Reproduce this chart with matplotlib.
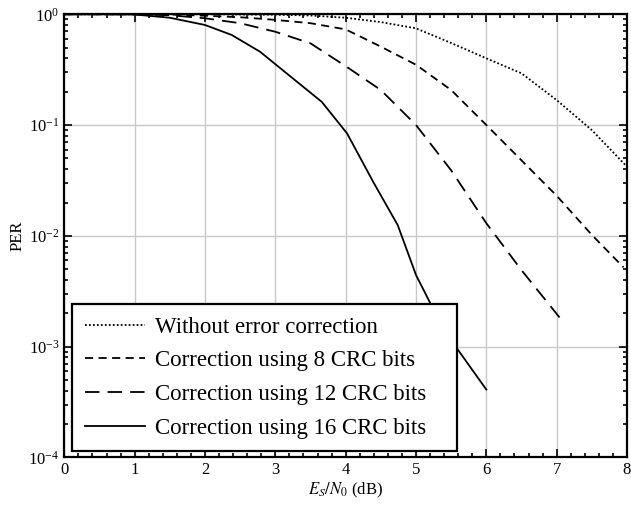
import numpy as np
import matplotlib
matplotlib.use('Agg')
import matplotlib.pyplot as plt
from matplotlib.patches import Rectangle
from matplotlib.ticker import MultipleLocator, LogLocator, NullFormatter

# PER curves
x_none = [0, 1, 2, 3, 3.5, 4, 4.5, 5, 5.5, 6, 6.5, 7, 7.5, 8]
per_none = [1.0, 1.0, 1.0, 0.99, 0.975, 0.93, 0.85, 0.746, 0.55, 0.40, 0.293, 0.168, 0.09, 0.042]

x_crc8 = [0, 1, 1.5, 2, 2.5, 3, 3.5, 4, 4.5, 5, 5.5, 6, 6.5, 7, 7.5, 7.95]
per_crc8 = [1.0, 1.0, 0.995, 0.97, 0.94, 0.89, 0.83, 0.73, 0.51, 0.35, 0.207, 0.10, 0.048, 0.023, 0.0102, 0.0052]

x_crc12 = [0, 1, 1.5, 2, 2.5, 3, 3.5, 4, 4.5, 5, 5.5, 6, 6.5, 7.07]
per_crc12 = [1.0, 1.0, 0.98, 0.92, 0.83, 0.695, 0.546, 0.34, 0.207, 0.10, 0.039, 0.013, 0.0049, 0.00174]

x_crc16 = [0, 0.5, 1, 1.5, 2, 2.38, 2.78, 3.16, 3.66, 4.02, 4.39, 4.74, 5.0, 5.4, 6.0]
per_crc16 = [1.0, 1.0, 0.995, 0.93, 0.80, 0.65, 0.46, 0.293, 0.162, 0.084, 0.0308, 0.0125, 0.00443, 0.0014, 0.00041]

labels = ['Without error correction', 'Correction using 8 CRC bits',
          'Correction using 12 CRC bits', 'Correction using 16 CRC bits']

plt.rcParams['font.family'] = ['Liberation Serif', 'DejaVu Serif']
plt.rcParams['mathtext.fontset'] = 'stix'

fig = plt.figure(figsize=(6.31, 5.09), dpi=100)
ax = fig.add_axes([0.102, 0.1012, 0.8917, 0.8708])

lw = 1.3
ax.plot(x_none, per_none, color='k', lw=lw, dashes=(1, 1.2), label=labels[0])
ax.plot(x_crc8, per_crc8, color='k', lw=lw, dashes=(4.5, 3), label=labels[1])
ax.plot(x_crc12, per_crc12, color='k', lw=lw, dashes=(8, 4.5), label=labels[2])
ax.plot(x_crc16, per_crc16, color='k', lw=lw, linestyle='-', label=labels[3])

ax.set_yscale('log')
ax.set_xlim(0, 8)
ax.set_ylim(1e-4, 1)
ax.xaxis.set_major_locator(MultipleLocator(1))
ax.xaxis.set_minor_locator(MultipleLocator(0.2))
ax.yaxis.set_major_locator(LogLocator(base=10, numticks=10))
ax.yaxis.set_minor_locator(LogLocator(base=10, subs=np.arange(2, 10), numticks=20))
ax.yaxis.set_minor_formatter(NullFormatter())

ax.grid(True, which='major', color='#c8c8c8', lw=1.0)
ax.set_axisbelow(True)
ax.tick_params(which='both', direction='in', top=True, right=True, labelsize=12, width=1.2)
ax.tick_params(which='major', length=6)
ax.tick_params(which='minor', length=3)
for s in ax.spines.values():
    s.set_linewidth(1.6)

ax.set_xlabel('$E_S/N_0$ (dB)', fontsize=12, labelpad=2)
ax.set_ylabel('PER', fontsize=12, labelpad=2)

# legend box drawn separately (wider on the right, like the original)
box = Rectangle((0.0135, 0.0147), 0.6845, 0.331, transform=ax.transAxes,
                facecolor='white', edgecolor='k', lw=1.6, zorder=4)
ax.add_patch(box)
leg = ax.legend(loc='upper left', bbox_to_anchor=(0.0366, 0.318), fontsize=16.5,
                frameon=False, handlelength=2.6, labelspacing=0.56,
                borderpad=0, handletextpad=0.45, borderaxespad=0)
leg.set_zorder(5)

fig.savefig('out.png', dpi=100)
plt.close(fig)
